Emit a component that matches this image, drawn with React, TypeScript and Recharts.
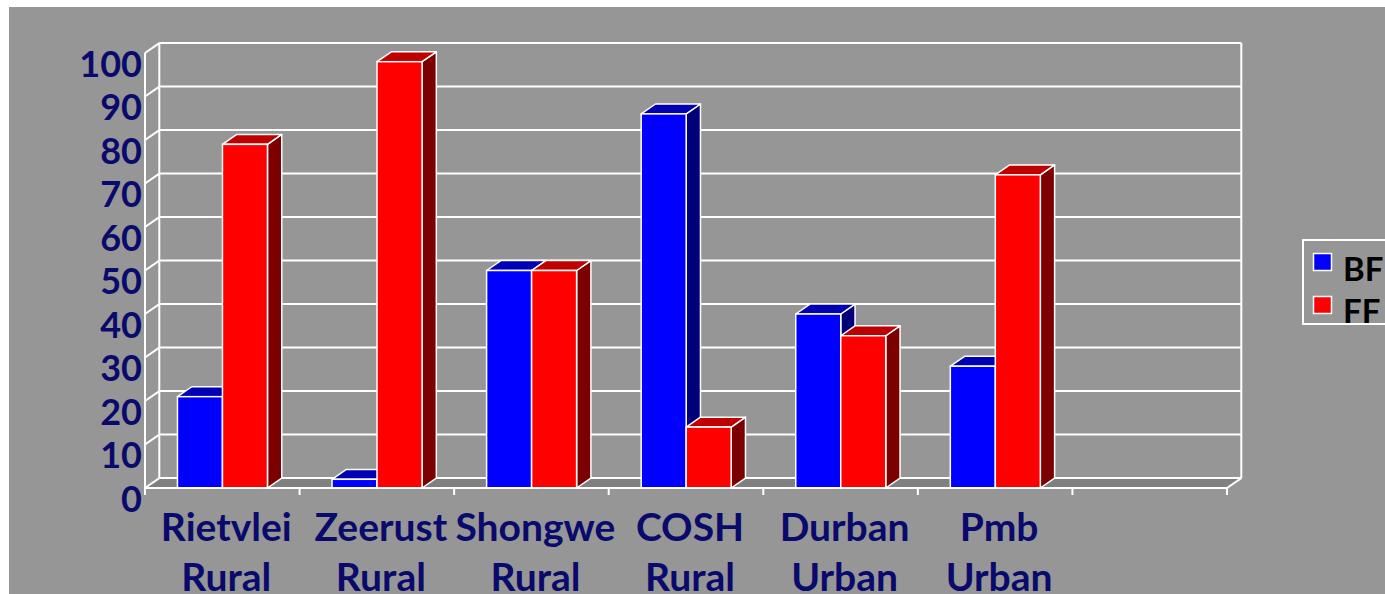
import React from 'react';
import { BarChart, Bar, XAxis, YAxis, CartesianGrid, Legend } from 'recharts';

// ---- data ----
const sites = ['Rietvlei', 'Zeerust', 'Shongwe', 'COSH', 'Durban', 'Pmb', ''];
const settings = ['Rural', 'Rural', 'Rural', 'Rural', 'Urban', 'Urban', ''];
const bfValues: (number | null)[] = [21, 2, 50, 86, 40, 28, null];
const ffValues: (number | null)[] = [79, 98, 50, 14, 35, 72, null];
const yTicks = [0, 10, 20, 30, 40, 50, 60, 70, 80, 90, 100];
const seriesNames = ['BF', 'FF'];

const data = sites.map((s, i) => ({
  name: `${s} ${settings[i]} #${i}`,
  BF: bfValues[i],
  FF: ffValues[i],
}));

// ---- style ----
const DX = 14.3;
const DY = -9.9;
const GRAY = '#969696';
const FLOOR = '#808080';
const NAVY = '#0a0a6c';
const FONT = 'Lato, "Open Sans", sans-serif';
const WHITE = '#ffffff';

const makeShape = (front: string, top: string, side: string) => (props: any) => {
  const { x, y, width, height } = props;
  if (x == null || y == null || !isFinite(height) || !isFinite(width) || width <= 0) return null;
  const v = props.payload ? props.payload[props.dataKey] : 1;
  if (v == null) return null;
  const sidePts = `${x + width},${y} ${x + width + DX},${y + DY} ${x + width + DX},${y + height + DY} ${x + width},${y + height}`;
  const topPts = `${x},${y} ${x + DX},${y + DY} ${x + width + DX},${y + DY} ${x + width},${y}`;
  return (
    <g>
      <polygon points={sidePts} fill={side} stroke={WHITE} strokeWidth={1.5} strokeLinejoin="round" />
      <polygon points={topPts} fill={top} stroke={WHITE} strokeWidth={1.5} strokeLinejoin="round" />
      <rect x={x} y={y} width={width} height={height} fill={front} stroke={WHITE} strokeWidth={1.5} />
    </g>
  );
};

const bfShape = makeShape('#0000ff', '#0000b4', '#00007a');
const ffShape = makeShape('#ff0000', '#be0000', '#7c0000');

const renderHLine = (p: any) => {
  const { x1, x2, y1 } = p;
  const pts: number[] = Array.isArray(p.horizontalPoints) ? p.horizontalPoints : [];
  const top = p.y != null ? p.y : Math.min(...pts);
  const bottom = p.y != null && p.height != null ? p.y + p.height : Math.max(...pts);
  const isBottom = Math.abs(y1 - bottom) < 0.6;
  const isTop = Math.abs(y1 - top) < 0.6;
  const ls = { stroke: WHITE, strokeWidth: 2 };
  return (
    <g key={p.key}>
      {isBottom && (
        <polygon
          points={`${x1},${y1} ${x1 + DX},${y1 + DY} ${x2 + DX},${y1 + DY} ${x2},${y1}`}
          fill={FLOOR}
        />
      )}
      <line x1={x1} y1={y1} x2={x1 + DX} y2={y1 + DY} {...ls} />
      <line x1={x1 + DX} y1={y1 + DY} x2={x2 + DX} y2={y1 + DY} {...ls} />
      {isBottom && <line x1={x2} y1={y1} x2={x2 + DX} y2={y1 + DY} {...ls} />}
      {isTop && (
        <>
          <line x1={x1 + DX} y1={y1 + DY} x2={x1 + DX} y2={bottom + DY} {...ls} />
          <line x1={x2 + DX} y1={y1 + DY} x2={x2 + DX} y2={bottom + DY} {...ls} />
        </>
      )}
    </g>
  );
};

const XTick = (props: any) => {
  const { x, y, payload, visibleTicksCount } = props;
  const i = payload && payload.index != null ? payload.index : props.index;
  const half = payload && payload.offset ? payload.offset : 77;
  return (
    <g>
      <line x1={x - half} y1={y} x2={x - half} y2={y + 7} stroke={WHITE} strokeWidth={2} />
      {i === visibleTicksCount - 1 && (
        <line x1={x + half} y1={y} x2={x + half} y2={y + 7} stroke={WHITE} strokeWidth={2} />
      )}
      <text x={x + 4} y={y + 53} textAnchor="middle" fill={NAVY} fontFamily={FONT} fontWeight={700} fontSize={39}>
        {sites[i]}
      </text>
      <text x={x + 4} y={y + 103} textAnchor="middle" fill={NAVY} fontFamily={FONT} fontWeight={700} fontSize={39}>
        {settings[i]}
      </text>
    </g>
  );
};

const YTick = (props: any) => {
  const { x, y, payload } = props;
  return (
    <text x={x - 3} y={y + 23.5} textAnchor="end" fill={NAVY} fontFamily={FONT} fontWeight={700} fontSize={36}>
      {payload.value}
    </text>
  );
};

const renderLegend = (props: any) => {
  const payload = props && props.payload && props.payload.length ? props.payload : [
    { value: seriesNames[0], color: '#0000ff' },
    { value: seriesNames[1], color: '#ff0000' },
  ];
  return (
    <svg width={130} height={90} style={{ display: 'block', overflow: 'visible' }}>
      <rect x={1} y={1} width={125} height={84} fill="none" stroke={WHITE} strokeWidth={2} />
      {payload.map((it: any, k: number) => (
        <g key={k}>
          <rect x={11.5} y={14.5 + k * 43} width={18} height={17} fill={it.color} stroke={WHITE} strokeWidth={1.5} />
          <text x={41} y={42 + k * 42} fill="#000" fontFamily={FONT} fontWeight={700} fontSize={33}>
            {it.value}
          </text>
        </g>
      ))}
    </svg>
  );
};

export default function App() {
  return (
    <>
      <style>{`html,body{margin:0;padding:0;overflow:hidden;background:#fff;}`}</style>
      <div
        style={{
          position: 'absolute',
          left: 9,
          top: 7,
          width: 1376,
          height: 587,
          background: GRAY,
          overflow: 'hidden',
        }}
      >
        <BarChart
          width={1376}
          height={587}
          data={data}
          margin={{ top: 46, right: 158, bottom: 0, left: 0 }}
          barCategoryGap="21%"
          barGap={0}
        >
          <CartesianGrid vertical={false} horizontal={renderHLine as any} stroke={WHITE} />
          <XAxis
            dataKey="name"
            height={106}
            interval={0}
            tickLine={false}
            tickSize={0}
            tickMargin={0}
            axisLine={{ stroke: WHITE, strokeWidth: 2 }}
            tick={<XTick />}
          />
          <YAxis
            width={136}
            domain={[0, 100]}
            ticks={yTicks}
            interval={0}
            tickLine={false}
            tickSize={0}
            tickMargin={0}
            axisLine={{ stroke: WHITE, strokeWidth: 2 }}
            tick={<YTick />}
          />
          <Legend
            layout="vertical"
            align="center"
            verticalAlign="middle"
            wrapperStyle={{ left: 1293, top: 232, width: 130, height: 90 }}
            content={renderLegend}
          />
          <Bar dataKey="BF" name="BF" fill="#0000ff" shape={bfShape} isAnimationActive={false} />
          <Bar dataKey="FF" name="FF" fill="#ff0000" shape={ffShape} isAnimationActive={false} />
        </BarChart>
      </div>
    </>
  );
}
